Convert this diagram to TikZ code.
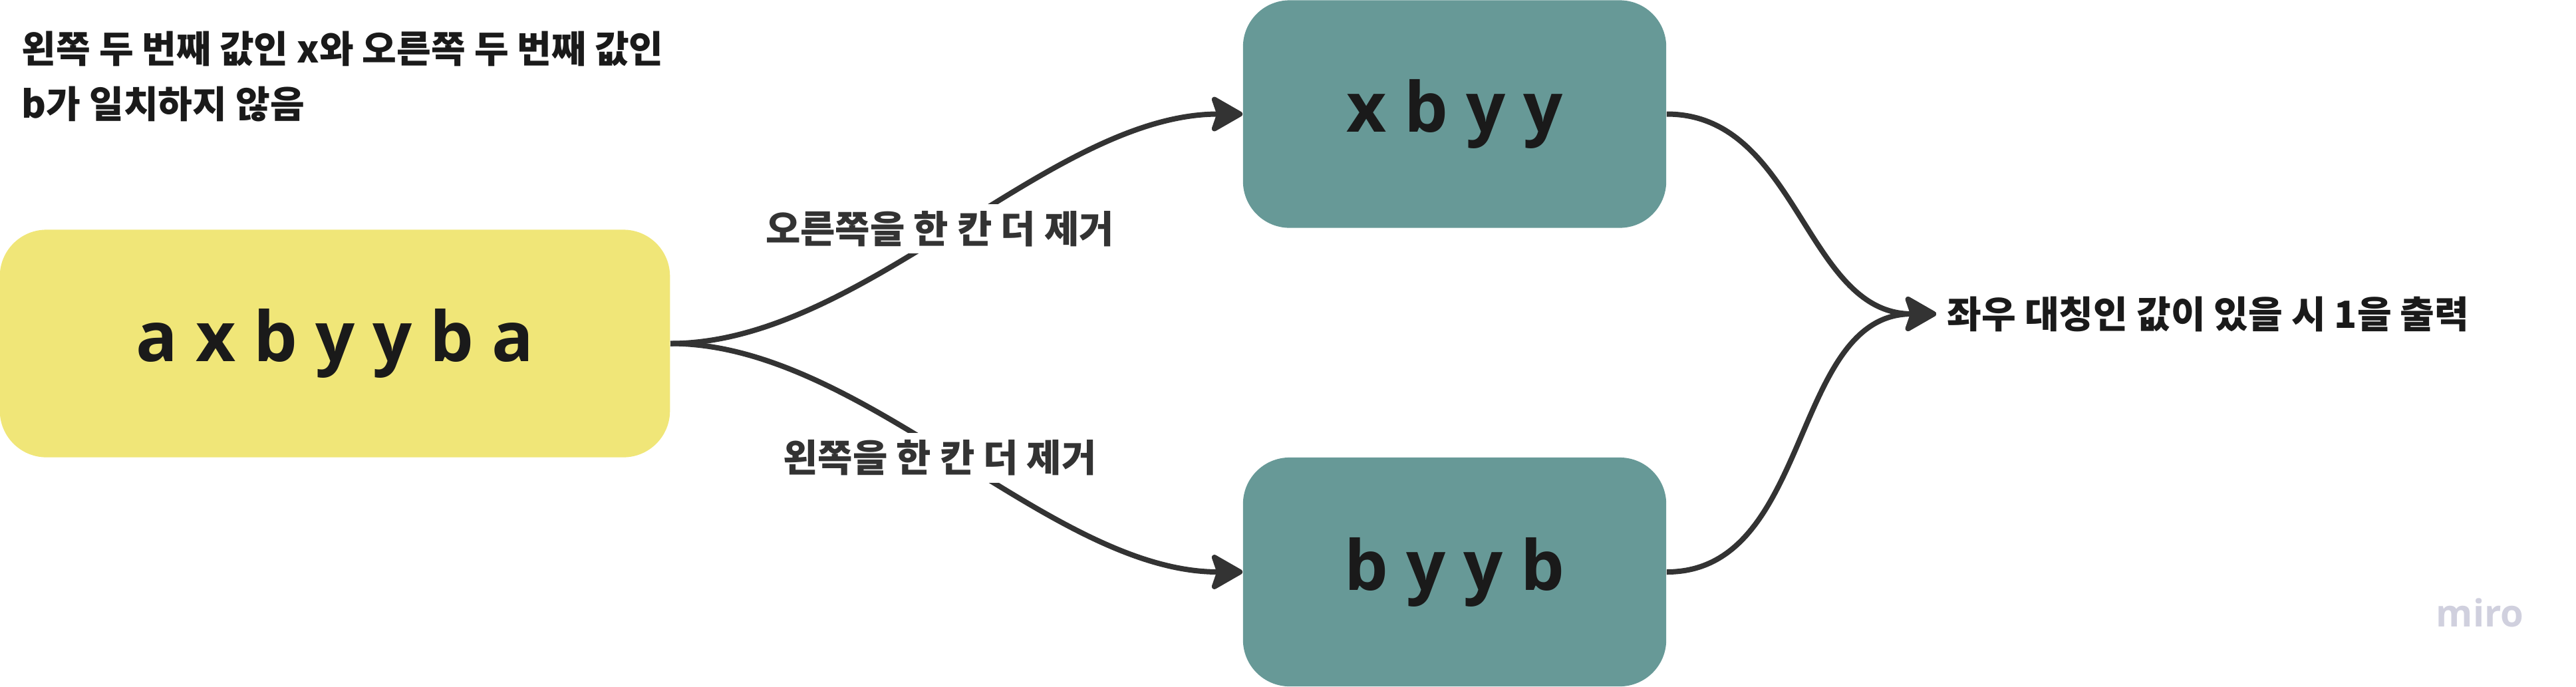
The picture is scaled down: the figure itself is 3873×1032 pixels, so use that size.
\documentclass[tikz,border=0pt]{standalone}
\usepackage{fontspec}
\usepackage{xcolor}
\usepackage{tikz}
\usetikzlibrary{arrows.meta}
\setmainfont{Noto Sans CJK KR}
\newfontfamily\opensans{Open Sans}
\definecolor{lyellow}{RGB}{240, 230, 120}
\definecolor{lteal}{RGB}{103, 153, 151}
\definecolor{dgray}{RGB}{51, 51, 51}
\definecolor{ink}{RGB}{26, 26, 26}
\definecolor{mgray}{RGB}{208, 208, 222}

\begin{document}
\begin{tikzpicture}[x = 0.01cm, y = -0.01cm,
			box/.style = {rectangle, rounded corners = 0.7cm, minimum height = 3.42cm, inner sep = 0pt, text = ink, font = \opensans\bfseries\fontsize{29.6}{36}\selectfont},
			lbl/.style = {fill = white, text = dgray, inner sep = 3pt, font = \bfseries\fontsize{16.2}{20}\selectfont},
			link/.style = {draw = dgray, line width = 0.08cm, -{Stealth[length = 0.53cm, width = 0.6cm, inset = 0.1cm, round]}}]
			\useasboundingbox (0,0) rectangle (3873,1032);
			\node (s) at (503.5,516.5) [box, fill = lyellow, minimum width = 10.07cm] {a x b y y b a};
			\node (r) at (2187,171.5) [box, fill = lteal, minimum width = 6.36cm] {x b y y};
			\node (l) at (2187,860) [box, fill = lteal, minimum width = 6.36cm, minimum height = 3.44cm] {b y y b};
			\node (note) at (32,177) [anchor = base west, align = left, inner sep = 0pt, text = ink, font = \bfseries\fontsize{16}{23.6}\selectfont] {왼쪽 두 번째 값인 x와 오른쪽 두 번째 값인\\b가 일치하지 않음};
			\node (out) at (2911,472) [anchor = west, inner xsep = 0.16cm, inner ysep = 0pt, text = ink, font = \bfseries\fontsize{16}{20}\selectfont] {좌우 대칭인 값이 있을 시 1을 출력};
			\node (wm) at (3662,942) [anchor = base west, inner sep = 0pt, text = mgray, font = \opensans\bfseries\fontsize{16}{20}\selectfont] {miro};
			\draw[link] (s.east) to[out = 0, in = 180, looseness = 0.8] node[lbl, xshift = -0.25cm] {오른쪽을 한 칸 더 제거} (r.west);
			\draw[link] (s.east) to[out = 0, in = 180, looseness = 0.8] node[lbl, xshift = -0.25cm] {왼쪽을 한 칸 더 제거} (l.west);
			\draw[link] (r.east) to[out = 0, in = 180] (out.west);
			\draw[link] (l.east) to[out = 0, in = 180] (out.west);
\end{tikzpicture}
\end{document}
